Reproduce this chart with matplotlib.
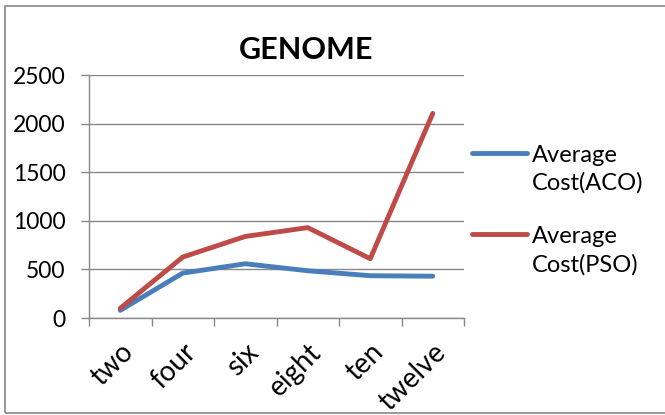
import matplotlib
matplotlib.use("Agg")
import matplotlib.pyplot as plt
from matplotlib.patches import Rectangle
from matplotlib.legend_handler import HandlerLine2D
from matplotlib.transforms import ScaledTranslation

categories = ["two", "four", "six", "eight", "ten", "twelve"]
aco = [79, 462, 558, 486, 435, 430]
pso = [100, 627, 839, 930, 610, 2105]
yticks = [0, 500, 1000, 1500, 2000, 2500]

plt.rcParams['font.family'] = ['Lato', 'DejaVu Sans']

W, H = 665, 415
fig = plt.figure(figsize=(W/100, H/100), dpi=100)
ax = fig.add_axes([89/W, 1-318/H, 375/W, 243/H])

x = range(len(categories))
ax.plot(x, aco, color='#4a7ebb', lw=3.5, solid_capstyle='round', label='Average\nCost(ACO)')
ax.plot(x, pso, color='#be4b48', lw=3.5, solid_capstyle='round', label='Average\nCost(PSO)')

ax.set_xlim(-0.5, len(categories) - 0.5)
ax.set_ylim(0, 2500)
ax.set_yticks(yticks)
ax.set_yticklabels([str(v) for v in yticks], fontsize=16.5)
ax.set_xticks(x)
ax.set_xticklabels(categories, fontsize=20, rotation=45, ha='right', va='top', rotation_mode='anchor')
for lab in ax.get_xticklabels():
    lab.set_transform(lab.get_transform() + ScaledTranslation(2/100, -2/100, fig.dpi_scale_trans))
ax.tick_params(axis='x', length=0, pad=15)
ax.set_xticks([i - 0.5 for i in range(len(categories) + 1)], minor=True)
ax.tick_params(axis='x', which='minor', length=6, color='#888888', width=1, direction='out')
ax.tick_params(axis='y', length=6, color='#888888', width=1, pad=11)
ax.grid(axis='y', color='#888888', lw=1)
ax.set_axisbelow(True)
for s in ['top', 'right']:
    ax.spines[s].set_visible(False)
for s in ['left', 'bottom']:
    ax.spines[s].set_color('#888888')
    ax.spines[s].set_linewidth(1)

fig.text(306/W, 1-50/H, 'GENOME', fontsize=22, fontweight='bold', ha='center', va='center')


class TopLineHandler(HandlerLine2D):
    def __init__(self, shift, **kw):
        super().__init__(**kw)
        self.shift = shift

    def create_artists(self, legend, orig_handle, xdescent, ydescent, width, height, fontsize, trans):
        arts = super().create_artists(legend, orig_handle, xdescent, ydescent, width, height, fontsize, trans)
        for a in arts:
            yd = a.get_ydata()
            a.set_ydata([v + self.shift for v in yd])
        return arts


fs = 17
leg = fig.legend(loc='center left', bbox_to_anchor=(472/W, 1-210/H), frameon=False, fontsize=fs,
                 handlelength=2.35, labelspacing=1.35, handletextpad=0.2, borderpad=0, borderaxespad=0,
                 handler_map={matplotlib.lines.Line2D: TopLineHandler(shift=fs*0.7)})
for t in leg.get_texts():
    t.set_linespacing(1.4)

fig.patches.append(Rectangle((5/W, 2/H), 700/W, 407/H, transform=fig.transFigure,
                             fill=False, edgecolor='#888888', lw=1.2))

fig.savefig('out.png', dpi=100)
